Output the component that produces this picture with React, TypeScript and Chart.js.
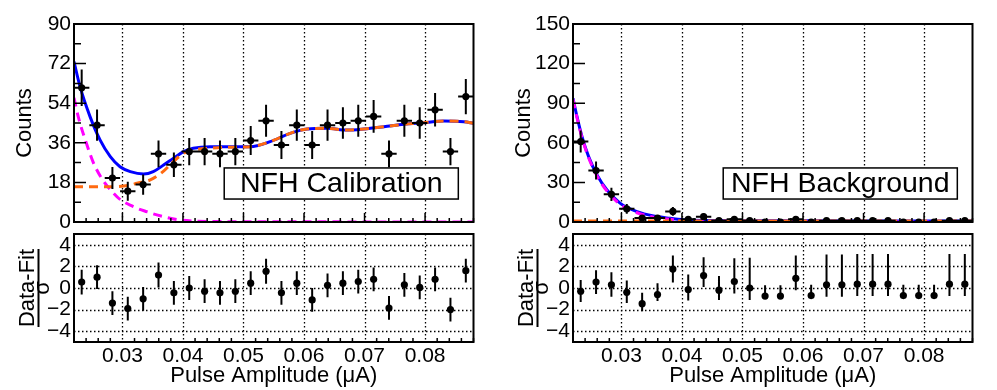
import React, { useEffect, useRef } from "react";
import { Chart, registerables } from "chart.js";

Chart.register(...registerables);

const FONT = "'Liberation Sans', Arial, Helvetica, sans-serif";

// ---------- axes ----------
const X_MIN = 0.022;
const X_MAX = 0.088;
const xTickValues = [0.03, 0.04, 0.05, 0.06, 0.07, 0.08];
const residTickValues = [-4, -2, 0, 2, 4];
const calYMax = 90;
const calYStep = 18;
const bkgYMax = 150;
const bkgYStep = 30;

// ---------- histogram bins ----------
const binHalfWidth = 0.00127;
const binCenters = [
  0.023269, 0.025808, 0.028346, 0.030885, 0.033423, 0.035962, 0.0385, 0.041038,
  0.043577, 0.046115, 0.048654, 0.051192, 0.053731, 0.056269, 0.058808, 0.061346,
  0.063885, 0.066423, 0.068962, 0.0715, 0.074038, 0.076577, 0.079115, 0.081654,
  0.084192, 0.086731,
];

// ---------- NFH Calibration ----------
const calCounts = [61, 44, 20, 14, 17, 31, 26, 32, 32, 31, 32, 37, 46, 35, 44, 35, 44, 45, 46, 48, 31, 46, 45, 51, 32, 57];
const calErrors = [8.3, 7.1, 5.0, 4.3, 4.6, 6.1, 5.6, 6.2, 6.2, 6.1, 6.2, 6.6, 7.3, 6.4, 7.1, 6.4, 7.1, 7.2, 7.3, 7.4, 6.1, 7.3, 7.2, 7.6, 6.2, 8.0];
const calPulls = [0.55, 1.0, -1.4, -1.9, -1.0, 1.2, -0.45, 0.0, -0.3, -0.45, -0.3, 0.45, 1.55, -0.45, 0.45, -1.1, 0.25, 0.45, 0.6, 0.8, -1.85, 0.3, 0.05, 0.8, -2.0, 1.6];
const calPullErrors = [1.15, 1.1, 1.1, 1.1, 1.1, 1.15, 1.1, 1.1, 1.1, 1.1, 1.1, 1.1, 1.15, 1.1, 1.1, 1.1, 1.1, 1.1, 1.1, 1.1, 1.1, 1.1, 1.1, 1.1, 1.1, 1.1];

const calTotalX = [0.022, 0.023, 0.02465, 0.0263, 0.028, 0.0296, 0.0313, 0.0335, 0.0351, 0.0368, 0.0384, 0.0401, 0.0417, 0.0445, 0.0478, 0.0511, 0.0544, 0.0577, 0.0605, 0.0638, 0.0671, 0.0699, 0.0732, 0.0765, 0.0798, 0.0831, 0.0864, 0.088];
const calTotalY = [72.9, 61.5, 47.9, 37.3, 29.7, 25.1, 22.9, 21.8, 22.9, 25.9, 28.9, 32.0, 33.5, 34.2, 34.2, 34.2, 36.5, 40.3, 42.3, 42.6, 41.8, 42.3, 43.3, 44.4, 45.1, 45.9, 45.6, 44.9];
const calPeakX = [0.022, 0.026, 0.029, 0.031, 0.0324, 0.0346, 0.0367, 0.0384, 0.0401, 0.0417, 0.0445, 0.0478, 0.0511, 0.0544, 0.0577, 0.0605, 0.0638, 0.0671, 0.0699, 0.0732, 0.0765, 0.0798, 0.0831, 0.0864, 0.088];
const calPeakY = [16.0, 16.0, 16.1, 16.6, 17.6, 19.1, 22.9, 27.4, 31.2, 32.7, 33.5, 34.0, 34.2, 36.5, 40.3, 42.3, 42.6, 41.8, 42.3, 43.3, 44.4, 45.1, 45.9, 45.6, 44.9];
const calExpX = [0.022, 0.0227, 0.024, 0.0255, 0.0291, 0.0318, 0.034, 0.0368, 0.0395, 0.0462, 0.055, 0.088];
const calExpY = [56.5, 47.9, 36.2, 25.1, 11.5, 7.0, 4.7, 2.4, 0.9, 0.2, 0.1, 0.0];

// ---------- NFH Background ----------
const bkgCounts = [61, 39, 21, 10, 3, 3, 8, 2, 4, 1, 2, 1, 0, 0, 2, 0, 1, 1, 1, 1, 1, 0, 0, 0, 1, 1];
const bkgErrors = [8.3, 6.8, 5.0, 3.7, 2.2, 2.2, 3.3, 1.9, 2.5, 1.4, 1.9, 1.4, 0, 0, 1.9, 0, 1.4, 1.4, 1.4, 1.4, 1.4, 0, 0, 0, 1.4, 1.4];
const bkgPulls = [-0.3, 0.55, 0.3, -0.4, -1.45, -0.6, 1.75, -0.15, 1.15, -0.2, 0.6, 0.0, -0.75, -0.75, 0.9, -0.7, 0.3, 0.3, 0.35, 0.35, 0.35, -0.7, -0.7, -0.7, 0.35, 0.35];
const bkgPullUp = [1.05, 1.1, 1.15, 1.1, 1.0, 1.05, 1.25, 1.4, 1.7, 1.3, 2.15, 2.8, 1.0, 1.0, 2.1, 1.0, 2.8, 2.8, 2.8, 2.8, 2.8, 1.0, 1.0, 1.0, 2.8, 2.8];
const bkgPullDown = [1.0, 1.1, 1.1, 1.0, 0.7, 0.6, 1.25, 1.0, 1.05, 0.9, 1.1, 1.1, 0, 0, 1.1, 0, 1.1, 1.1, 1.1, 1.1, 1.1, 0, 0, 0, 1.1, 1.1];

const bkgTotalX = [0.022, 0.02266, 0.02349, 0.02458, 0.02597, 0.02762, 0.02982, 0.03258, 0.03532, 0.03808, 0.04084, 0.045, 0.05, 0.06, 0.07, 0.088];
const bkgTotalY = [93.7, 79.8, 64.6, 49.5, 35.6, 24.2, 14.1, 7.8, 4.5, 2.8, 1.5, 1.2, 1.0, 0.9, 0.85, 0.8];
const bkgExpY = [92.9, 79.0, 63.8, 48.7, 34.8, 23.4, 13.3, 7.0, 3.7, 2.0, 0.7, 0.4, 0.2, 0.1, 0.05, 0.0];
const bkgFlatX = [0.022, 0.088];
const bkgFlatY = [0.8, 0.8];

// ---------- helpers ----------
const BLUE = "#0000ff";
const ORANGE = "#ff6a10";
const MAGENTA = "#ff00ff";

function pts(xs: number[], ys: number[]) {
  return xs.map((x, i) => ({ x, y: ys[i] }));
}

function errorBars(xs: number[], ys: number[], up: number[], down: number[], hw: number) {
  const out: { x: number; y: number | null }[] = [];
  xs.forEach((x, i) => {
    out.push({ x, y: ys[i] - down[i] }, { x, y: ys[i] + up[i] }, { x, y: null });
    if (hw > 0) out.push({ x: x - hw, y: ys[i] }, { x: x + hw, y: ys[i] }, { x: x + hw, y: null });
  });
  return out;
}

function curve(xs: number[], ys: number[], color: string, dash: number[]) {
  return {
    data: pts(xs, ys),
    borderColor: color,
    borderWidth: 3,
    borderDash: dash,
    pointRadius: 0,
    fill: false,
    cubicInterpolationMode: "monotone" as const,
  };
}

function markerSet(xs: number[], ys: number[]) {
  return {
    data: pts(xs, ys),
    showLine: false,
    pointRadius: 3.6,
    pointBackgroundColor: "#000",
    pointBorderWidth: 0,
    borderColor: "#000",
  };
}

function barSet(data: { x: number; y: number | null }[]) {
  return {
    data,
    borderColor: "#000",
    borderWidth: 2,
    pointRadius: 0,
    spanGaps: false,
    tension: 0,
    fill: false,
  };
}

const xMinorValues: number[] = [];
for (let k = 11; k <= 44; k++) {
  const v = k / 500;
  if (k % 5 !== 0) xMinorValues.push(v);
}

type Deco = {
  yMajor: number[];
  yMinor: number[];
  yMajorLen: number;
  yMinorLen: number;
  xMajorLen: number;
  xMinorLen: number;
  gridY: number[];
  label?: string;
  fraction?: boolean;
};

function decoPlugin(o: Deco) {
  return {
    id: "rootDeco",
    beforeDatasetsDraw(chart: any) {
      const { ctx, chartArea: a } = chart;
      const xs = chart.scales.x;
      const ys = chart.scales.y;
      ctx.save();
      ctx.strokeStyle = "#000";
      ctx.lineWidth = 1.3;
      ctx.setLineDash([1.5, 2.5]);
      ctx.beginPath();
      for (const v of xTickValues) {
        const p = Math.round(xs.getPixelForValue(v)) + 0.5;
        ctx.moveTo(p, a.top);
        ctx.lineTo(p, a.bottom);
      }
      for (const v of o.gridY) {
        const p = Math.round(ys.getPixelForValue(v)) + 0.5;
        ctx.moveTo(a.left, p);
        ctx.lineTo(a.right, p);
      }
      ctx.stroke();
      ctx.restore();
    },
    afterDatasetsDraw(chart: any) {
      const { ctx, chartArea: a } = chart;
      const xs = chart.scales.x;
      const ys = chart.scales.y;
      ctx.save();
      if (o.label) {
        const bx0 = a.left + 0.376 * a.width;
        const bx1 = a.left + 0.962 * a.width;
        const by0 = a.top + 0.727 * a.height;
        const by1 = a.top + 0.884 * a.height;
        ctx.fillStyle = "#fff";
        ctx.fillRect(bx0, by0, bx1 - bx0, by1 - by0);
        ctx.strokeStyle = "#000";
        ctx.lineWidth = 1.5;
        ctx.strokeRect(bx0, by0, bx1 - bx0, by1 - by0);
        ctx.fillStyle = "#000";
        ctx.font = `28.5px ${FONT}`;
        ctx.textAlign = "center";
        ctx.textBaseline = "middle";
        ctx.fillText(o.label, (bx0 + bx1) / 2, (by0 + by1) / 2 + 1);
      }
      ctx.strokeStyle = "#000";
      ctx.lineWidth = 1.5;
      ctx.beginPath();
      for (const v of o.yMajor) {
        const p = ys.getPixelForValue(v);
        ctx.moveTo(a.left, p);
        ctx.lineTo(a.left + o.yMajorLen, p);
      }
      for (const v of o.yMinor) {
        const p = ys.getPixelForValue(v);
        ctx.moveTo(a.left, p);
        ctx.lineTo(a.left + o.yMinorLen, p);
      }
      for (const v of xTickValues) {
        const p = xs.getPixelForValue(v);
        ctx.moveTo(p, a.bottom);
        ctx.lineTo(p, a.bottom - o.xMajorLen);
      }
      for (const v of xMinorValues) {
        const p = xs.getPixelForValue(v);
        ctx.moveTo(p, a.bottom);
        ctx.lineTo(p, a.bottom - o.xMinorLen);
      }
      ctx.stroke();
      ctx.lineWidth = 2;
      ctx.strokeRect(a.left, a.top, a.right - a.left, a.bottom - a.top);
      ctx.restore();
    },
    afterDraw(chart: any) {
      if (!o.fraction) return;
      const { ctx, chartArea: a } = chart;
      const cy = (a.top + a.bottom) / 2;
      ctx.save();
      ctx.strokeStyle = "#000";
      ctx.lineWidth = 2;
      ctx.beginPath();
      ctx.moveTo(38.5, cy - 39);
      ctx.lineTo(38.5, cy + 39);
      ctx.stroke();
      ctx.restore();
    },
  };
}

const W = 497;
const MAIN_H = 240;
const RES_H = 164;
const Y_AXIS_W = 74;
const PAD_RIGHT = 23.5;

function mainChart(
  canvas: HTMLCanvasElement,
  counts: number[],
  errs: number[],
  curves: any[],
  yMax: number,
  yStep: number,
  label: string
) {
  const yMajor: number[] = [];
  const yMinor: number[] = [];
  for (let v = 0; v <= yMax; v += yStep) yMajor.push(v);
  for (let v = yStep / 2; v < yMax; v += yStep) yMinor.push(v);
  return new Chart(canvas, {
    type: "line",
    data: {
      datasets: [
        markerSet(binCenters, counts),
        barSet(errorBars(binCenters, counts, errs, errs, binHalfWidth)),
        ...curves,
      ] as any,
    },
    options: {
      responsive: false,
      animation: false,
      devicePixelRatio: 1,
      layout: { padding: { left: 0, top: 24, right: PAD_RIGHT, bottom: 18 } },
      plugins: { legend: { display: false }, tooltip: { enabled: false } },
      scales: {
        x: { type: "linear", min: X_MIN, max: X_MAX, display: false },
        y: {
          type: "linear",
          min: 0,
          max: yMax,
          ticks: { stepSize: yStep, color: "#000", font: { size: 21, family: FONT }, padding: 3, autoSkip: false },
          grid: { display: false, drawTicks: false },
          border: { display: false },
          title: {
            display: true,
            text: "Counts",
            color: "#000",
            font: { size: 22, family: FONT },
            padding: { top: 12, bottom: 0 },
          },
          afterFit: (s: any) => {
            s.width = Y_AXIS_W;
            s.paddingTop = 0;
            s.paddingBottom = 0;
          },
        },
      },
    } as any,
    plugins: [
      decoPlugin({
        yMajor,
        yMinor,
        yMajorLen: 12,
        yMinorLen: 7,
        xMajorLen: 9,
        xMinorLen: 4,
        gridY: [],
        label,
      }) as any,
    ],
  });
}

function residChart(canvas: HTMLCanvasElement, pulls: number[], up: number[], down: number[]) {
  return new Chart(canvas, {
    type: "line",
    data: {
      datasets: [markerSet(binCenters, pulls), barSet(errorBars(binCenters, pulls, up, down, 0))] as any,
    },
    options: {
      responsive: false,
      animation: false,
      devicePixelRatio: 1,
      layout: { padding: { left: 0, top: 8, right: PAD_RIGHT, bottom: 0 } },
      plugins: { legend: { display: false }, tooltip: { enabled: false } },
      scales: {
        x: {
          type: "linear",
          min: X_MIN,
          max: X_MAX,
          afterBuildTicks: (s: any) => {
            s.ticks = xTickValues.map((v) => ({ value: v }));
          },
          ticks: {
            color: "#000",
            font: { size: 21, family: FONT },
            padding: 2,
            maxRotation: 0,
            autoSkip: false,
            callback: (v: any) => Number(v).toFixed(2),
          },
          grid: { display: false, drawTicks: false },
          border: { display: false },
          title: {
            display: true,
            text: "Pulse Amplitude (\u03bcA)",
            color: "#000",
            font: { size: 22, family: FONT },
            padding: { top: 0, bottom: 1 },
          },
          afterFit: (s: any) => {
            s.height = 48;
            s.paddingLeft = 0;
            s.paddingRight = 0;
          },
        },
        y: {
          type: "linear",
          min: -5,
          max: 5,
          afterBuildTicks: (s: any) => {
            s.ticks = residTickValues.map((v) => ({ value: v }));
          },
          ticks: {
            color: "#000",
            font: { size: 21, family: FONT },
            padding: 3,
            autoSkip: false,
            callback: (v: any) => (Number(v) < 0 ? "\u2212" + Math.abs(Number(v)) : String(v)),
          },
          grid: { display: false, drawTicks: false },
          border: { display: false },
          title: {
            display: true,
            text: ["Data-Fit", "\u03c3"],
            color: "#000",
            font: { size: 22, family: FONT, lineHeight: 0.7 },
            padding: { top: 19.8, bottom: 0 },
          },
          afterFit: (s: any) => {
            s.width = Y_AXIS_W;
            s.paddingTop = 0;
            s.paddingBottom = 0;
          },
        },
      },
    } as any,
    plugins: [
      decoPlugin({
        yMajor: [],
        yMinor: [],
        yMajorLen: 0,
        yMinorLen: 0,
        xMajorLen: 0,
        xMinorLen: 4,
        gridY: residTickValues,
        fraction: true,
      }) as any,
    ],
  });
}

export default function App() {
  const mainL = useRef<HTMLCanvasElement>(null);
  const resL = useRef<HTMLCanvasElement>(null);
  const mainR = useRef<HTMLCanvasElement>(null);
  const resR = useRef<HTMLCanvasElement>(null);

  useEffect(() => {
    Chart.defaults.font.family = FONT;
    Chart.defaults.color = "#000";
    const charts = [
      mainChart(
        mainL.current!,
        calCounts,
        calErrors,
        [
          curve(calPeakX, calPeakY, ORANGE, [9, 6]),
          curve(calExpX, calExpY, MAGENTA, [9, 6]),
          curve(calTotalX, calTotalY, BLUE, []),
        ],
        calYMax,
        calYStep,
        "NFH Calibration"
      ),
      residChart(resL.current!, calPulls, calPullErrors, calPullErrors),
      mainChart(
        mainR.current!,
        bkgCounts,
        bkgErrors,
        [
          curve(bkgFlatX, bkgFlatY, ORANGE, [9, 6]),
          curve(bkgTotalX, bkgExpY, MAGENTA, [9, 6]),
          curve(bkgTotalX, bkgTotalY, BLUE, []),
        ],
        bkgYMax,
        bkgYStep,
        "NFH Background"
      ),
      residChart(resR.current!, bkgPulls, bkgPullUp, bkgPullDown),
    ];
    return () => charts.forEach((c) => c.destroy());
  }, []);

  const abs = (left: number, top: number): React.CSSProperties => ({ position: "absolute", left, top });

  return (
    <div style={{ position: "fixed", left: 0, top: 0, width: 997, height: 390, background: "#fff" }}>
      <canvas ref={mainL} width={W} height={MAIN_H} style={abs(0, 0)} />
      <canvas ref={resL} width={W} height={RES_H} style={abs(0, 226)} />
      <canvas ref={mainR} width={W} height={MAIN_H} style={abs(499, 0)} />
      <canvas ref={resR} width={W} height={RES_H} style={abs(499, 226)} />
    </div>
  );
}
